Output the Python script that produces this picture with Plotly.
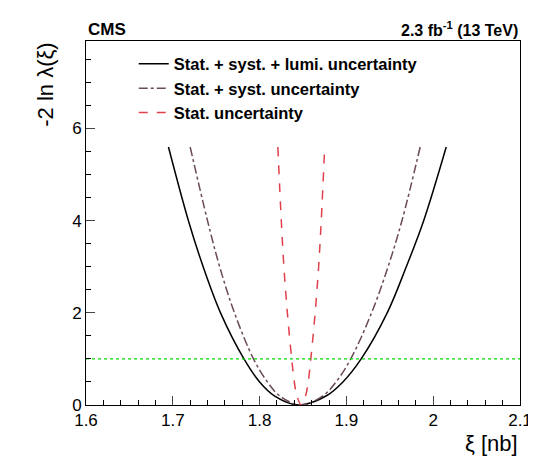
import plotly.graph_objects as go

yv = [5.6, 4, 3, 2, 1, 0.5, 0.2, 0]
full_l = [1.695, 1.718, 1.735, 1.755, 1.782, 1.800, 1.817, 1.845]
full_r = [2.015, 1.989, 1.969, 1.947, 1.917, 1.896, 1.877, 1.845]
syst_l = [1.720, 1.740, 1.754, 1.771, 1.793, 1.809, 1.823, 1.847]
syst_r = [1.985, 1.964, 1.948, 1.929, 1.905, 1.888, 1.873, 1.847]
stat_l = [1.821, 1.825, 1.828, 1.832, 1.837, 1.840, 1.843, 1.848]
stat_r = [1.875, 1.871, 1.868, 1.864, 1.859, 1.856, 1.853, 1.848]
x_ticks = [1.6, 1.7, 1.8, 1.9, 2.0, 2.1]
x_tick_labels = ["1.6", "1.7", "1.8", "1.9", "2", "2.1"]

def curve(l, r):
    return l + r[::-1][1:], yv + yv[::-1][1:]

fig = go.Figure()
for (l, r), name, col, dash in [
    ((full_l, full_r), "<b>Stat. + syst. + lumi. uncertainty</b>", "black", "solid"),
    ((syst_l, syst_r), "<b>Stat. + syst. uncertainty</b>", "#6b4a5a", "dashdot"),
    ((stat_l, stat_r), "<b>Stat. uncertainty</b>", "#e0404a", "dash"),
]:
    x, y = curve(l, r)
    fig.add_trace(go.Scatter(x=x, y=y, mode="lines", name=name,
                             line=dict(color=col, dash=dash, width=1.5, shape="spline")))
fig.add_trace(go.Scatter(x=[1.6, 2.1], y=[1, 1], mode="lines", showlegend=False,
                         line=dict(color="#00dd00", dash="dot", width=1.2)))

ax = dict(showline=True, mirror=True, linecolor="black", linewidth=1, ticks="inside",
          ticklen=9, showgrid=False, zeroline=False,
          tickfont=dict(size=17, family="Liberation Sans"))
fig.update_xaxes(range=[1.6, 2.1], tickvals=x_ticks, ticktext=x_tick_labels, **ax,
                 minor=dict(ticks="inside", ticklen=5, tickmode="linear", tick0=1.6,
                            dtick=0.02, showgrid=False, tickcolor="black"))
fig.update_yaxes(range=[0, 7.9], tickmode="linear", tick0=0, dtick=2, **ax,
                 minor=dict(ticks="inside", ticklen=5, tickmode="linear", tick0=0,
                            dtick=0.5, showgrid=False, tickcolor="black"))
fig.update_layout(
    width=536, height=467, plot_bgcolor="white", paper_bgcolor="white",
    margin=dict(l=78, r=24, t=33, b=70, autoexpand=False),
    font=dict(family="Liberation Sans", color="black"),
    showlegend=True,
    legend=dict(x=0.11, y=0.985, xanchor="left", yanchor="top", bgcolor="rgba(0,0,0,0)",
                font=dict(size=16.5), tracegroupgap=0),
    annotations=[
        dict(text="<b>CMS</b>", x=0, y=1, xref="paper", yref="paper", xanchor="left",
             yanchor="bottom", showarrow=False, font=dict(size=17)),
        dict(text="<b>2.3 fb<sup>-1</sup> (13 TeV)</b>", x=1, y=1, xref="paper", yref="paper",
             xanchor="right", yanchor="bottom", showarrow=False, font=dict(size=16)),
        dict(text="ξ [nb]", x=1, y=-0.065, xref="paper", yref="paper", xanchor="right",
             yanchor="top", showarrow=False, font=dict(size=22)),
        dict(text="-2 ln λ(ξ)", x=-0.095, y=1, xref="paper", yref="paper", xanchor="center",
             yanchor="top", textangle=-90, showarrow=False, font=dict(size=22)),
    ],
)
fig.write_html("out.html")
